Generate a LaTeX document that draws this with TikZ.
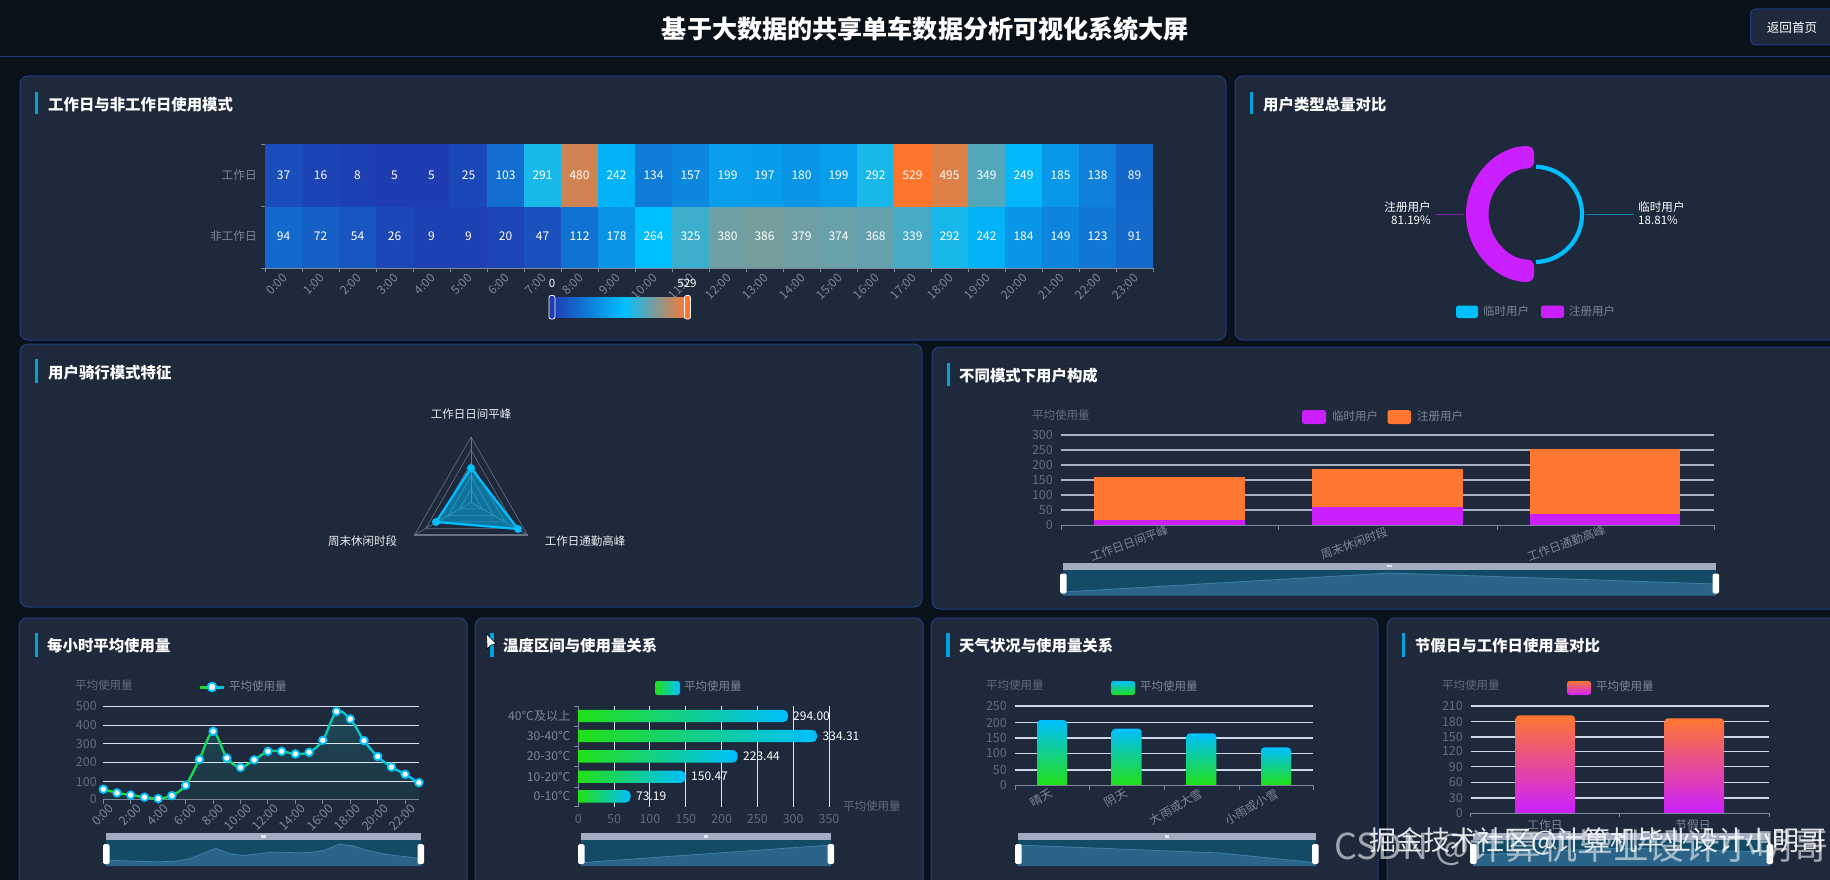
\documentclass[tikz,border=0pt]{standalone}
\usepackage{fontspec}
\setmainfont{Noto Sans CJK SC}
\definecolor{bgc}{HTML}{0A1219}
\definecolor{panelc}{HTML}{1E293C}
\definecolor{panelb}{HTML}{1E3F85}
\definecolor{axc}{HTML}{7D8798}
\definecolor{dimc}{HTML}{616C7D}
\definecolor{gridc}{HTML}{BCC6D8}
\definecolor{barcy}{HTML}{00BFFF}
\definecolor{bargr}{HTML}{22E015}
\definecolor{purp}{HTML}{CC1FFF}
\definecolor{oran}{HTML}{FF7730}
\definecolor{hlow}{HTML}{1E3CB0}
\definecolor{hmid}{HTML}{00BFFF}
\definecolor{hhigh}{HTML}{FF752B}
\definecolor{dzbar}{HTML}{A3ADC2}
\definecolor{dzbg}{HTML}{134A66}
\definecolor{dzarea}{HTML}{2A6489}
\definecolor{dzline}{HTML}{3F80A5}
\definecolor{areatop}{HTML}{1D4A58}
\definecolor{areabot}{HTML}{1D3340}
\tikzset{
  panel/.style={fill=panelc,draw=panelb,line width=1pt,rounded corners=8pt},
  ptitle/.style={font=\bfseries\fontsize{15.4}{16}\selectfont,text=white,anchor=west,inner sep=0pt},
  tbar/.style={fill=barcy!85!black},
  axlab/.style={font=\fontsize{11.7}{12}\selectfont,text=axc,inner sep=0pt},
  ylab/.style={font=\fontsize{12.5}{13}\selectfont,text=dimc,inner sep=0pt},
  dimlab/.style={font=\fontsize{11.5}{12}\selectfont,text=dimc,inner sep=0pt,anchor=west},
  leglab/.style={font=\fontsize{11.5}{12}\selectfont,text=axc,inner sep=0pt,anchor=west},
  vallab/.style={font=\fontsize{12}{13}\selectfont,text=white,inner sep=0pt},
  axline/.style={draw=axc,line width=.9pt},
  swatch/.style={rounded corners=2.5pt},
}
\newcommand\heatcolor[1]{\ifnum#1<264 \pgfmathtruncatemacro\pp{100*(#1/264)}\colorlet{cellc}{hmid!\pp!hlow}\else\pgfmathtruncatemacro\pp{100*((#1-264)/265)}\colorlet{cellc}{hhigh!\pp!hmid}\fi}
% x1,x2,ytop,line coordinates
\newcommand\dzoom[4]{%
  \fill[dzbg] (#1,{#3+7}) rectangle (#2,{#3+33});
  \fill[dzarea] (#1,{#3+33}) -- plot coordinates {#4} -- (#2,{#3+33}) -- cycle;
  \draw[dzline,line width=.8pt] plot coordinates {#4};
  \fill[dzbar] (#1,#3) rectangle (#2,{#3+7});
  \fill[white!70!dzbar] ({(#1+#2)/2-2.2},{#3+2.2}) rectangle ({(#1+#2)/2+2.2},{#3+4.8});
  \fill[white,rounded corners=1.5pt] ({#1-3},{#3+11}) rectangle ({#1+3.5},{#3+31});
  \fill[white,rounded corners=1.5pt] ({#2-3.5},{#3+11}) rectangle ({#2+3},{#3+31});
}
% vertical bar with rounded top: x1,x2,top,bottom,topcolor,bottomcolor
\newcommand\vbarr[6]{%
  \path[top color=#5,bottom color=#6] (#1,#4) [rounded corners=3.5pt] -- (#1,#3) -- (#2,#3) [sharp corners] -- (#2,#4) -- cycle;
}
% horizontal bar: xend, ycentre
\newcommand\hbarr[2]{%
  \path[left color=bargr,right color=barcy] (578.3,{#2-6.2}) [rounded corners=5pt] -- (#1,{#2-6.2}) -- (#1,{#2+6.2}) [sharp corners] -- (578.3,{#2+6.2}) -- cycle;
}
\newcommand\hourpts{(103.3,789.2)(117.0,792.9)(130.7,795.0)(144.5,797.2)(158.2,798.6)(171.9,795.6)(185.6,785.3)(199.3,759.5)(213.1,731.3)(226.8,758.0)(240.5,767.4)(254.2,759.9)(267.9,751.3)(281.7,751.3)(295.4,753.9)(309.1,752.3)(322.8,740.3)(336.5,711.5)(350.3,719.0)(364.0,740.7)(377.7,756.5)(391.4,767.0)(405.1,774.3)(418.9,782.7)}
\begin{document}
\begin{tikzpicture}[x=1pt,y=-1pt]
\useasboundingbox (0,0) rectangle (1830,880);
\clip (0,0) rectangle (1830,880);
\fill[bgc] (0,0) rectangle (1830,880);
\draw[panelb,line width=1pt] (0,56.5) -- (1830,56.5);
\node[font=\bfseries\fontsize{25.1}{26}\selectfont,text=white,inner sep=0pt] (maintitle) at (925.5,29) {基于大数据的共享单车数据分析可视化系统大屏};
\draw[fill=panelc,draw=panelb,line width=1pt,rounded corners=5pt] (1750.5,9) rectangle (1850,45);
\node[font=\fontsize{12.6}{13}\selectfont,text=white,inner sep=0pt] (backbtn) at (1792,28) {返回首页};

% ---------- panels
\path[panel] (20,76) rectangle (1226,340);
\path[panel] (1235,76) rectangle (1860,340);
\path[panel] (20,344) rectangle (922,607);
\path[panel] (932,347) rectangle (1860,609);
\path[panel] (19,618) rectangle (467,900);
\path[panel] (475,618) rectangle (923,900);
\path[panel] (931,618) rectangle (1378,900);
\path[panel] (1387,618) rectangle (1860,900);

% ---------- titles
\fill[tbar] (35,92) rectangle (38,114);
\node[ptitle] (t1) at (48,105) {工作日与非工作日使用模式};
\fill[tbar] (1250,92) rectangle (1253,114);
\node[ptitle] (t2) at (1263,105) {用户类型总量对比};
\fill[tbar] (35,359) rectangle (38,383);
\node[ptitle] (t3) at (48,372.5) {用户骑行模式特征};
\fill[tbar] (947,363) rectangle (950,386);
\node[ptitle] (t4) at (959,375.5) {不同模式下用户构成};
\fill[tbar] (34.5,633) rectangle (38,657);
\node[ptitle] (t5) at (47,646) {每小时平均使用量};
\fill[tbar] (490,633) rectangle (494,657);
\node[ptitle] (t6) at (503,646) {温度区间与使用量关系};
\fill[tbar] (946,633) rectangle (950,657);
\node[ptitle] (t7) at (959,646) {天气状况与使用量关系};
\fill[tbar] (1402,633) rectangle (1405,657);
\node[ptitle] (t8) at (1415,646) {节假日与工作日使用量对比};
% mouse pointer
\draw[fill=white,draw=black,line width=.6pt] (486.5,634) -- (487.2,649) -- (490.5,645.5) -- (496,643.5) -- cycle;

% ---------- heatmap
\foreach \v [count=\i from 0] in {37,16,8,5,5,25,103,291,480,242,134,157,199,197,180,199,292,529,495,349,249,185,138,89}{
  \heatcolor{\v}
  \fill[cellc] ({265+37*\i},144) rectangle ({265+37*(\i+1)},206.7);
  \node[vallab] at ({265+37*\i+18.5},175) {\v};
}
\foreach \v [count=\i from 0] in {94,72,54,26,9,9,20,47,112,178,264,325,380,386,379,374,368,339,292,242,184,149,123,91}{
  \heatcolor{\v}
  \fill[cellc] ({265+37*\i},206.7) rectangle ({265+37*(\i+1)},268);
  \node[vallab] at ({265+37*\i+18.5},236.5) {\v};
}
\foreach \y in {144,206.7,268}{\draw[axline] (261,\y) -- (265,\y);}
\draw[axline] (265,268) -- (1153,268);
\foreach \i in {0,...,24}{\draw[axline] ({265+37*\i},268) -- ({265+37*\i},272);}
\foreach \i in {0,...,23}{
  \node[axlab,rotate=45,anchor=north east,font=\fontsize{12}{13}\selectfont] at ({265+37*\i+17},272.5) {\i:00};
}
\node[axlab,anchor=east] at (257,175) {工作日};
\node[axlab,anchor=east] at (257,236) {非工作日};
% visual map
\path[left color=hlow,right color=hmid,middle color=hmid!50!hlow] (552,297) rectangle (624,317);
\path[left color=hmid,right color=oran] (624,297) rectangle (687,317);
\draw[fill=hlow,draw=white,line width=.7pt,rounded corners=2pt] (549,295.5) rectangle (555,319);
\draw[fill=oran,draw=white,line width=.7pt,rounded corners=2pt] (684.5,295.5) rectangle (690.5,319);
\node[vallab,font=\fontsize{11.5}{12}\selectfont] at (552,283) {0};
\node[vallab,font=\fontsize{11.5}{12}\selectfont] at (687,283) {529};

% ---------- donut
\fill[purp,rounded corners=7pt] (1534,146) arc[start angle=90,end angle=270,radius=68pt] -- (1534,259.5) arc[start angle=270,end angle=90,radius=45.5pt] -- cycle;
\draw[barcy,line width=4.2pt] (1536,166.7) arc[start angle=88,end angle=-88,radius=47.7pt];
\node[vallab,align=right,anchor=east,font=\fontsize{11.6}{12.5}\selectfont] (lreg) at (1431,213) {注册用户\\81.19\%};
\node[vallab,align=left,anchor=west,font=\fontsize{11.6}{12.5}\selectfont] (ltemp) at (1638,213) {临时用户\\18.81\%};
\coordinate (lregc) at (1464,214);
\coordinate (ltempc) at (1586,214);
\draw[purp!55!panelc,line width=1pt] ([xshift=5pt]lreg.east|-lregc) -- (lregc);
\draw[barcy!60!panelc,line width=1pt] (ltempc) -- ([xshift=-4pt]ltemp.west|-ltempc);
\fill[barcy,swatch] (1456,305.5) rectangle (1478,318);
\node[leglab] at (1483,311) {临时用户};
\fill[purp,swatch] (1541,305.5) rectangle (1564,318);
\node[leglab] at (1569,311) {注册用户};

% ---------- radar
\foreach \r in {13.06,26.12,39.18,52.24,65.3}{
  \draw[draw=axc!80!panelc,line width=.6pt] (471,{502.3-\r}) -- ({471+.866*\r},{502.3+.5*\r}) -- ({471-.866*\r},{502.3+.5*\r}) -- cycle;
}
\draw[axc!80!panelc,line width=.6pt] (471,502.3) -- (471,437);
\draw[axc!80!panelc,line width=.6pt] (471,502.3) -- (527.6,535);
\draw[axc!80!panelc,line width=.6pt] (471,502.3) -- (414.4,535);
\draw[axc!80!panelc,line width=1.2pt] (414.4,535) -- (527.6,535);
\fill[barcy,opacity=.5] (471,468) -- (518,529) -- (436,522) -- cycle;
\draw[barcy,line width=2.2pt] (471,468) -- (518,529) -- (436,522) -- cycle;
\foreach \p in {(471,468),(518,529),(436,522)}{\fill[barcy] \p circle[radius=4pt];}
\node[vallab,font=\fontsize{11.5}{12}\selectfont,text=white!85!axc] at (471,414) {工作日日间平峰};
\node[vallab,font=\fontsize{11.5}{12}\selectfont,text=white!85!axc] at (585,541) {工作日通勤高峰};
\node[vallab,font=\fontsize{11.5}{12}\selectfont,text=white!85!axc] at (362.5,541) {周末休闲时段};

% ---------- stacked bar
\node[dimlab] at (1032,415) {平均使用量};
\fill[purp,swatch] (1302,410) rectangle (1326,424);
\node[leglab] at (1332,416) {临时用户};
\fill[oran,swatch] (1387.5,410) rectangle (1411,424);
\node[leglab] at (1417,416) {注册用户};
\foreach \v/\y in {300/435,250/450,200/465,150/480,100/495,50/510}{
  \draw[draw=gridc!90!black,line width=1.4pt] (1061,\y) -- (1714,\y);
  \node[ylab,anchor=east] at (1053,\y) {\v};
}
\node[ylab,anchor=east] at (1053,525) {0};
\foreach \a/\b/\pt/\ot in {1094/1244.6/519.5/476.7,1312/1463/507/469,1530/1680/514/449}{
  \fill[oran] (\a,\ot) rectangle (\b,\pt);
  \fill[purp] (\a,\pt) rectangle (\b,525);
}
\draw[axline] (1061,525) -- (1714,525);
\foreach \x in {1061,1278.5,1497,1714}{\draw[axline] (\x,525) -- (\x,530);}
\node[axlab,rotate=20] at (1129,543) {工作日日间平峰};
\node[axlab,rotate=20] at (1354,543) {周末休闲时段};
\node[axlab,rotate=20] at (1566,543) {工作日通勤高峰};
\dzoom{1063}{1716}{562.5}{(1063,592)(1390,573)(1716,584)}

% ---------- hourly line
\node[dimlab] at (75,685) {平均使用量};
\foreach \v/\y in {500/706,400/725,300/743.7,200/762,100/781.7}{
  \node[ylab,anchor=east] at (97,\y) {\v};
}
\node[ylab,anchor=east] at (97,799.3) {0};
\path[top color=areatop,bottom color=areabot]
  (103.3,799.3) -- plot[smooth,tension=.5] coordinates {\hourpts} -- (418.9,799.3) -- cycle;
\foreach \y in {706,725,743.7,762,781.7}{\draw[draw=gridc!50!white,line width=.9pt] (103.3,\y) -- (419,\y);}
\draw[axline] (103.3,799.3) -- (419,799.3);
\foreach \i in {0,2,...,22}{
  \draw[axline] ({103.3+13.72*\i},799.3) -- ({103.3+13.72*\i},803.5);
  \node[axlab,rotate=45,anchor=north east,font=\fontsize{12.5}{13}\selectfont] at ({103.3+13.72*\i+5},803) {\i:00};
}
\foreach \i in {0,...,23}{
  \pgfmathtruncatemacro\pp{100*\i/23}
  \colorlet{segc}{barcy!\pp!bargr}
  \begin{scope}
    \clip ({103.3+13.72*\i-(\i==0)*8},690) rectangle ({103.3+13.72*(\i+1)+.4+(\i==23)*8},810);
    \draw[segc,line width=2.4pt] plot[smooth,tension=.5] coordinates {\hourpts};
  \end{scope}
}
\foreach \p in {(103.3,789.2),(117.0,792.9),(130.7,795.0),(144.5,797.2),(158.2,798.6),(171.9,795.6),(185.6,785.3),(199.3,759.5),(213.1,731.3),(226.8,758.0),(240.5,767.4),(254.2,759.9),(267.9,751.3),(281.7,751.3),(295.4,753.9),(309.1,752.3),(322.8,740.3),(336.5,711.5),(350.3,719.0),(364.0,740.7),(377.7,756.5),(391.4,767.0),(405.1,774.3),(418.9,782.7)}{
  \draw[fill=white,draw=barcy,line width=1.8pt] \p circle[radius=3.8pt];
}
\path[left color=bargr,right color=barcy] (200,686) rectangle (224,688);
\draw[fill=white,draw=barcy,line width=1.8pt] (212,687) circle[radius=4.4pt];
\node[leglab] at (229,686.5) {平均使用量};
\dzoom{106}{421}{833}{(106,860)(119.7,860.7)(133.4,861.1)(147.1,861.6)(160.8,861.8)(174.5,861.2)(188.2,859.2)(201.9,853.9)(215.6,848.2)(229.3,853.6)(243,855.5)(256.7,854)(270.4,852.3)(284.1,852.3)(297.8,852.8)(311.5,852.4)(325.2,850)(338.9,844.2)(352.6,845.7)(366.3,850.1)(380,853.3)(393.7,855.4)(407.4,856.9)(421,858.6)}

% ---------- temperature
\path[left color=bargr,right color=barcy,swatch] (655,681) rectangle (680,695);
\node[leglab] at (684,686) {平均使用量};
\foreach \v [count=\k from 1] in {50,100,150,200,250,300,350}{
  \pgfmathsetmacro\xx{578.3+.7163*\v}
  \draw[draw=gridc!50!white,line width=1pt] (\xx,706) -- (\xx,806.7);
  \node[ylab] at (\xx,819) {\v};
}
\node[ylab] at (578.3,819) {0};
\draw[axline] (578.3,706) -- (578.3,806.7);
\foreach \y in {706,726.3,746.7,766.7,787.3,806.7}{\draw[axline] (574,\y) -- (578.3,\y);}
\hbarr{788}{716}
\hbarr{817}{736}
\hbarr{737.7}{756.3}
\hbarr{685.7}{776.7}
\hbarr{630.7}{796.3}
\foreach \e/\y/\lb/\vl in {793/716/40°C及以上/294.00,822.5/736/30-40°C/334.31,743/756.3/20-30°C/223.44,691/776.7/10-20°C/150.47,636/796.3/0-10°C/73.19}{
  \node[axlab,anchor=east,font=\fontsize{12.2}{13}\selectfont] at (570.7,\y) {\lb};
  \node[vallab,anchor=west,font=\fontsize{12}{13}\selectfont] at (\e,\y) {\vl};
}
\node[dimlab] at (843,806) {平均使用量};
\dzoom{581}{831}{833}{(581,862.7)(831,845)}

% ---------- weather
\node[dimlab] at (986,685) {平均使用量};
\path[top color=barcy,bottom color=bargr,swatch] (1111,681) rectangle (1135,695);
\node[leglab] at (1140,686) {平均使用量};
\foreach \v/\y in {250/706,200/722.7,150/738,100/753.3,50/770}{
  \draw[draw=gridc!70!white,line width=1.1pt] (1015,\y) -- (1313,\y);
  \node[ylab,anchor=east] at (1007,\y) {\v};
}
\node[ylab,anchor=east] at (1007,785.3) {0};
\vbarr{1037.3}{1067}{720}{785.3}{barcy}{bargr}
\vbarr{1111.7}{1141.7}{728.7}{785.3}{barcy}{bargr}
\vbarr{1186.3}{1216.3}{733.3}{785.3}{barcy}{bargr}
\vbarr{1261}{1291}{747.3}{785.3}{barcy}{bargr}
\draw[axline] (1015,785.3) -- (1313.7,785.3);
\foreach \x in {1015.7,1089.7,1164.3,1239.3,1313.7}{\draw[axline] (\x,785.3) -- (\x,790);}
\node[axlab,rotate=30] at (1041.7,798) {晴天};
\node[axlab,rotate=30] at (1116,798) {阴天};
\node[axlab,rotate=30] at (1176,807) {大雨或大雪};
\node[axlab,rotate=30] at (1251.7,807) {小雨或小雪};
\dzoom{1018}{1315.7}{833}{(1018,845)(1220,853)(1315.7,862.7)}

% ---------- holiday
\node[dimlab] at (1442,685) {平均使用量};
\path[top color=oran,bottom color=purp,swatch] (1567,681) rectangle (1591,695);
\node[leglab] at (1596,686) {平均使用量};
\foreach \v/\y in {210/706,180/721.7,150/737,120/751.3,90/766.7,60/782.3,30/798}{
  \draw[draw=gridc!70!white,line width=1.1pt] (1470.7,\y) -- (1769,\y);
  \node[ylab,anchor=east] at (1463,\y) {\v};
}
\node[ylab,anchor=east] at (1463,813) {0};
\vbarr{1515.7}{1575}{715.3}{813}{oran}{purp}
\vbarr{1664.3}{1724}{718.3}{813}{oran}{purp}
\draw[axline] (1470.7,813) -- (1769.3,813);
\foreach \x in {1470.7,1619.3,1769.3}{\draw[axline] (\x,813) -- (\x,817);}
\node[axlab] at (1545,825) {工作日};
\node[axlab] at (1693,825) {节假日};
\dzoom{1473}{1770}{833}{(1473,855)(1620,848)(1770,852)}

% ---------- watermarks
\node[font=\fontsize{35.8}{37}\selectfont,text=white!80!axc,opacity=.65,inner sep=0pt,anchor=east] (wm1) at (1828,847) {CSDN @计算机毕业设计小明哥};
\node[font=\fontsize{27}{28}\selectfont,text=white,opacity=.88,inner sep=0pt,anchor=east] (wm2) at (1827,841) {掘金技术社区@计算机毕业设计小明哥};
\end{tikzpicture}
\end{document}
